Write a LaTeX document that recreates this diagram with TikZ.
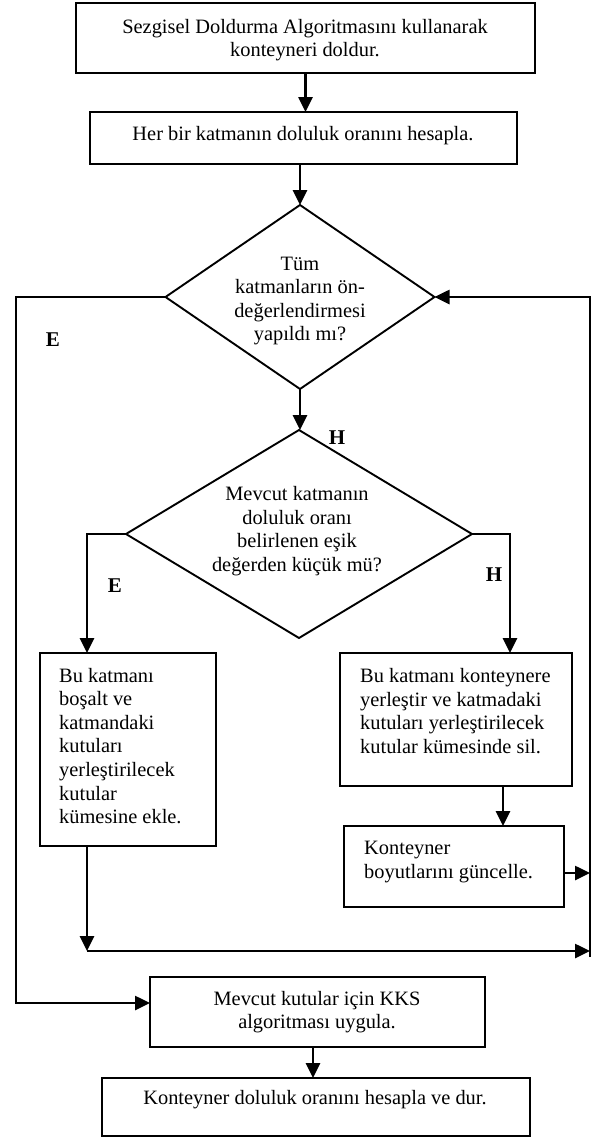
\documentclass[tikz,border=0pt]{standalone}
\usepackage{fontspec}
\setmainfont{Liberation Serif}
\usetikzlibrary{shapes.geometric,arrows.meta,calc}
\begin{document}
\begin{tikzpicture}[x=1pt,y=-1pt,
  box/.style={draw, line width=2pt, inner sep=0pt, outer sep=0pt},
  dia/.style={draw, diamond, line width=1.9pt, inner sep=0pt, outer sep=0pt},
  txt/.style={inner sep=0pt, font=\fontsize{20.4}{23.6}\selectfont},
  lab/.style={inner sep=0pt, font=\fontsize{21}{23.6}\selectfont\bfseries},
  arr/.style={line width=2.6pt, -{Triangle[length=15pt,width=14pt]}},
  ln/.style={line width=2.6pt}]
\useasboundingbox (0,0) rectangle (593,1138);

% shapes
\node[box, minimum width=459pt, minimum height=70pt] (b1) at (305.5,38) {};
\node[box, minimum width=427pt, minimum height=52pt] (b2) at (303.5,138) {};
\node[dia, minimum width=269pt, minimum height=184pt] (d1) at (300,297) {};
\node[dia, minimum width=346pt, minimum height=208pt] (d2) at (299,534) {};
\node[box, minimum width=176pt, minimum height=193pt] (b3) at (128,749.5) {};
\node[box, minimum width=232pt, minimum height=133pt] (b4) at (456,719.5) {};
\node[box, minimum width=220pt, minimum height=81pt] (b5) at (454,866.5) {};
\node[box, minimum width=335pt, minimum height=70pt] (kks) at (317.5,1012) {};
\node[box, minimum width=428pt, minimum height=58pt] (b6) at (316,1107) {};

% texts
\node[txt, align=center] (t1) at (305,40) {Sezgisel Doldurma Algoritmasını kullanarak\\konteyneri doldur.};
\node[txt] (t2) at (303,136) {Her bir katmanın doluluk oranını hesapla.};
\node[txt, align=center] (t3) at (300,301) {Tüm\\katmanların ön-\\değerlendirmesi\\yapıldı mı?};
\node[txt, align=center] (t4) at (297,531) {Mevcut katmanın\\doluluk oranı\\belirlenen eşik\\değerden küçük mü?};
\node[txt, align=left, anchor=west] (t5) at (59,746) {Bu katmanı\\boşalt ve\\katmandaki\\kutuları\\yerleştirilecek\\kutular\\kümesine ekle.};
\node[txt, align=left, anchor=west] (t6) at (360,711) {Bu katmanı konteynere\\yerleştir ve katmadaki\\kutuları yerleştirilecek\\kutular kümesinde sil.};
\node[txt, align=left, anchor=west] (t7) at (364,862) {Konteyner\\boyutlarını güncelle.};
\node[txt, align=center] (t8) at (317,1012) {Mevcut kutular için KKS\\algoritması uygula.};
\node[txt] (t9) at (315,1100) {Konteyner doluluk oranını hesapla ve dur.};

% labels
\node[lab] (e1) at (53,340) {E};
\node[lab] (h1) at (337,438) {H};
\node[lab] (e2) at (115,586) {E};
\node[lab] (h2) at (494,575) {H};

% helper coordinates
\coordinate (cL) at (87,0);
\coordinate (cR) at (510,0);
\coordinate (c45) at (503,0);
\coordinate (c67) at (313,0);
\coordinate (rB) at (590,951);
\coordinate (rT) at (590,297);
\coordinate (lT) at (16,297);
\coordinate (lB) at (16,1003);

% connectors
\draw[arr] (b1.south) -- (b1.south |- b2.north);
\draw[arr] (d1.north |- b2.south) -- (d1.north);
\draw[arr] (d1.south) -- (d1.south |- d2.north);
\draw[arr] (d2.west) -| (cL |- b3.north);
\draw[arr] (d2.east) -| (cR |- b4.north);
\draw[arr] (c45 |- b4.south) -- (c45 |- b5.north);
\draw[arr] ([yshift=-6.5pt]b5.east) -- ([yshift=-6.5pt]b5.east -| rB);
\draw[arr] (cL |- b3.south) -- (cL |- rB);
\draw[arr] (cL |- rB) -- (rB);
\draw[arr] ($(rB)+(0,6)$) -- (rT) -- (d1.east);
\draw[arr] (d1.west) -- (lT) -- (lB) -- (lB -| kks.west);
\draw[arr] (c67 |- kks.south) -- (c67 |- b6.north);
\end{tikzpicture}
\end{document}
